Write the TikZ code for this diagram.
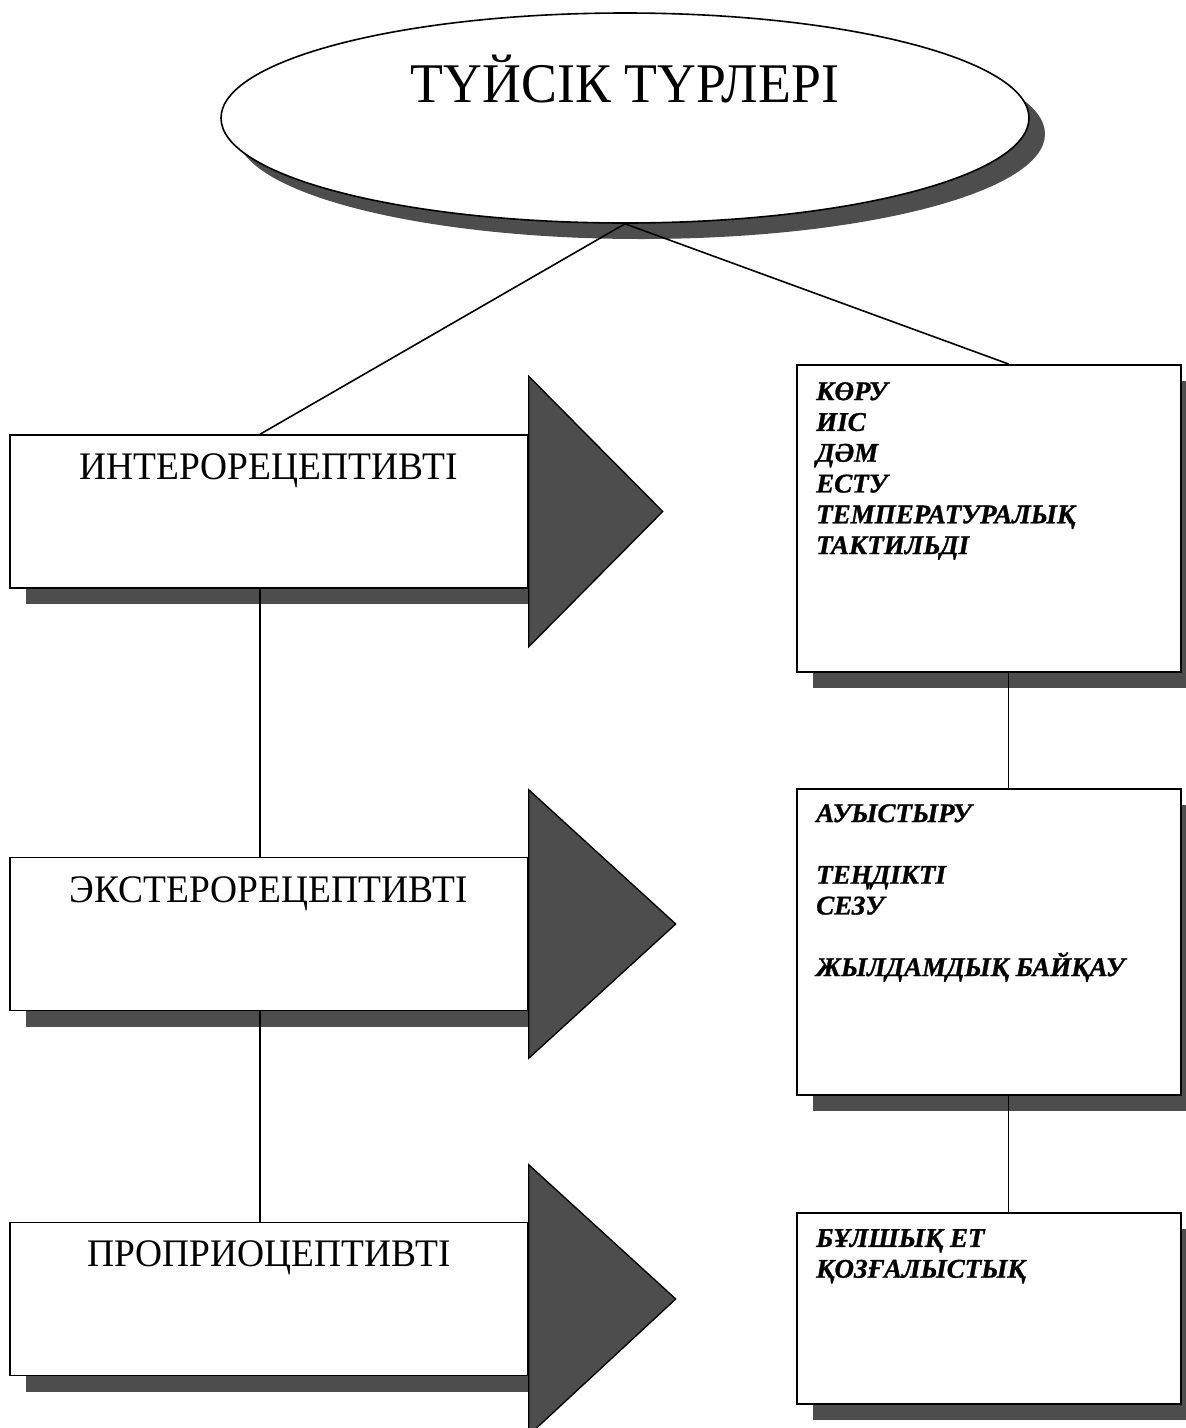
\documentclass[tikz,border=0pt]{standalone}
\usepackage{fontspec}
\setmainfont{Liberation Serif}[BoldItalicFeatures={FakeBold=1}]
\usetikzlibrary{shapes.geometric,shadows}
\definecolor{sgray}{RGB}{77,77,77}
\begin{document}
\begin{tikzpicture}[x=1pt,y=-1pt,
  shd/.style={drop shadow={shadow xshift=16pt,shadow yshift=-16pt,fill=sgray,opacity=1}},
  lbox/.style={rectangle, draw, line width=1.5pt, fill=white, minimum width=518pt, minimum height=153pt, shd},
  rbox/.style={rectangle, draw, line width=2pt, fill=white, minimum width=384pt, shd},
  tri/.style={draw, fill=sgray, line width=1.3pt, line join=miter},
  ttl/.style={anchor=base, font=\fontsize{56}{56}\selectfont, xscale=.96, inner sep=0},
  ltxt/.style={anchor=base, font=\fontsize{39}{39}\selectfont, xscale=.96, inner sep=0},
  rtxt/.style={anchor=north west, align=left, font=\fontsize{27}{30.8}\selectfont\bfseries\itshape, inner sep=0},
  cn/.style={line width=1.6pt}]
\useasboundingbox (0,0) rectangle (1186,1428);
% top ellipse
\node[ellipse, draw, line width=1.6pt, fill=white, minimum width=808pt, minimum height=210pt, shd] (typ0) at (625,118){};
\node[ttl] (ttl0) at ([yshift=16]typ0.center){ТҮЙСІК ТҮРЛЕРІ};
% left column
\node[lbox] (typ1) at (269,511.5){};
\draw[tri] ([yshift=58]typ1.north east) -- ([xshift=134]typ1.east) -- ([yshift=-58]typ1.south east) -- cycle;
\node[ltxt] (txt1) at ([yshift=-45]typ1.north){ИНТЕРОРЕЦЕПТИВТІ};
\node[lbox] (typ2) at (269,934){};
\draw[tri] ([yshift=67]typ2.north east) -- ([xshift=147,yshift=10]typ2.east) -- ([yshift=-47]typ2.south east) -- cycle;
\node[ltxt] (txt2) at ([yshift=-46]typ2.north){ЭКСТЕРОРЕЦЕПТИВТІ};
\node[lbox] (typ3) at (269,1299){};
\draw[tri] ([yshift=57]typ3.north east) -- ([xshift=147]typ3.east) -- ([yshift=-59]typ3.south east) -- cycle;
\node[ltxt] (txt3) at ([yshift=-45]typ3.north){ПРОПРИОЦЕПТИВТІ};
% right column
\node[rbox, minimum height=307pt] (typ4) at (989,518.5){};
\node[rtxt] (txt4) at ([xshift=20,yshift=-18]typ4.north west){КӨРУ\\ИІС\\ДӘМ\\ЕСТУ\\ТЕМПЕРАТУРАЛЫҚ\\ТАКТИЛЬДІ};
\node[rbox, minimum height=306pt] (typ5) at (989,942){};
\node[rtxt] (txt5) at ([xshift=20,yshift=-16]typ5.north west){АУЫСТЫРУ\\[30.8pt]ТЕҢДІКТІ\\СЕЗУ\\[30.8pt]ЖЫЛДАМДЫҚ БАЙҚАУ};
\node[rbox, minimum height=191pt] (typ6) at (989,1308.5){};
\node[rtxt] (txt6) at ([xshift=20,yshift=-17]typ6.north west){БҰЛШЫҚ ЕТ\\ҚОЗҒАЛЫСТЫҚ};
% connectors
\draw[cn](typ0.south) -- ([xshift=-9]typ1.north);
\draw[cn](typ0.south) -- ([xshift=19.5]typ4.north);
\draw[cn]([xshift=-9]typ1.south) -- ([xshift=-9]typ2.north);
\draw[cn]([xshift=-9]typ2.south) -- ([xshift=-9]typ3.north);
\draw[cn]([xshift=19.5]typ4.south) -- ([xshift=19.5]typ5.north);
\draw[cn]([xshift=19.5]typ5.south) -- ([xshift=19.5]typ6.north);
\end{tikzpicture}
\end{document}
